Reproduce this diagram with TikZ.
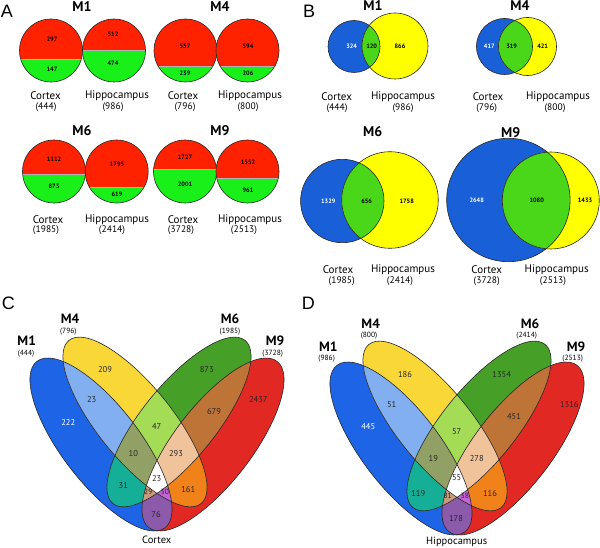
\documentclass[tikz,border=0pt]{standalone}
\usepackage{fontspec}
\setmainfont{PT Sans}
\newfontfamily\panelfont{Liberation Sans}
\usepackage{xcolor}
\usetikzlibrary{positioning}

% colours of the split discs (A) and two-set diagrams (B)
\definecolor{pieRed}{RGB}{255,34,0}
\definecolor{pieGreen}{RGB}{25,240,25}
\definecolor{vBlue}{RGB}{25,95,215}
\definecolor{vYellow}{RGB}{255,255,0}
\definecolor{vGreen}{RGB}{75,215,25}
% colours of the four-set diagrams (C, D)
\definecolor{eOne}{RGB}{30,100,230}
\definecolor{eFour}{RGB}{248,215,55}
\definecolor{eSix}{RGB}{70,160,40}
\definecolor{eNine}{RGB}{225,40,35}
\definecolor{eOneFour}{RGB}{130,175,240}
\definecolor{eFourSix}{RGB}{165,220,85}
\definecolor{eSixNine}{RGB}{190,115,55}
\definecolor{eOneNine}{RGB}{140,90,170}
\definecolor{eOneSix}{RGB}{20,175,150}
\definecolor{eFourNine}{RGB}{240,130,25}
\definecolor{eOneFourSix}{RGB}{145,160,100}
\definecolor{eFourSixNine}{RGB}{240,195,155}
\definecolor{eOneSixNine}{RGB}{200,155,125}
\definecolor{eOneFourNine}{RGB}{195,100,215}
\definecolor{edge}{RGB}{40,40,40}

% the four ellipses
\def\ellOne{(101,444.5) ellipse [x radius=105, y radius=38.7, rotate=-52.4]}
\def\ellFour{(135,422) ellipse [x radius=105, y radius=37, rotate=-51]}
\def\ellSix{(179,422) ellipse [x radius=105, y radius=37, rotate=51]}
\def\ellNine{(213,444.5) ellipse [x radius=105, y radius=38.7, rotate=52.4]}

\newcommand\pairfill[3]{\begin{scope}\clip #1; \fill[#3] #2;\end{scope}}
\newcommand\triplefill[4]{\begin{scope}\clip #1; \clip #2; \fill[#4] #3;\end{scope}}
\newcommand\fourvenn{%
  \fill[eOne] \ellOne; \fill[eFour] \ellFour;
  \fill[eSix] \ellSix; \fill[eNine] \ellNine;
  \pairfill\ellOne\ellFour{eOneFour}
  \pairfill\ellOne\ellSix{eOneSix}
  \pairfill\ellOne\ellNine{eOneNine}
  \pairfill\ellFour\ellSix{eFourSix}
  \pairfill\ellFour\ellNine{eFourNine}
  \pairfill\ellSix\ellNine{eSixNine}
  \triplefill\ellOne\ellFour\ellSix{eOneFourSix}
  \triplefill\ellOne\ellFour\ellNine{eOneFourNine}
  \triplefill\ellOne\ellSix\ellNine{eOneSixNine}
  \triplefill\ellFour\ellSix\ellNine{eFourSixNine}
  \begin{scope}\clip\ellOne; \clip\ellFour; \clip\ellSix; \fill[white] \ellNine;\end{scope}
  \draw[outline] \ellOne; \draw[outline] \ellFour;
  \draw[outline] \ellSix; \draw[outline] \ellNine;}

% disc split in a red upper and a green lower part
\newcommand\splitdisc[3]{%
  \begin{scope}
    \clip (#1,#2) circle [radius=31.5];
    \fill[pieRed] (#1-33,#2-33) rectangle (#1+33,#3);
    \fill[pieGreen] (#1-33,#3) rectangle (#1+33,#2+33);
    \draw[gray!60, line width=0.8pt] (#1-33,#3) -- (#1+33,#3);
  \end{scope}
  \draw[outline] (#1,#2) circle [radius=31.5];}

% blue disc x,y,r and yellow disc x,y,r
\newcommand\twovenn[6]{%
  \fill[vBlue] (#1,#2) circle [radius=#3];
  \fill[vYellow] (#4,#5) circle [radius=#6];
  \begin{scope}\clip (#1,#2) circle [radius=#3]; \fill[vGreen] (#4,#5) circle [radius=#6];\end{scope}
  \draw[outline] (#1,#2) circle [radius=#3];
  \draw[outline] (#4,#5) circle [radius=#6];}

\begin{document}
\begin{tikzpicture}[x=1pt, y=-1pt,
    every node/.style={inner sep=0pt},
    outline/.style={draw=edge, line width=0.6pt},
    panel/.style={font=\panelfont\fontsize{18}{18}\selectfont},
    mod/.style={font=\fontsize{14}{14}\selectfont\bfseries},
    tissue/.style={font=\fontsize{11}{11}\selectfont},
    count/.style={font=\fontsize{9.5}{9.5}\selectfont},
    pnum/.style={font=\fontsize{6.3}{6.3}\selectfont\bfseries},
    vmod/.style={font=\fontsize{13.5}{13.5}\selectfont\bfseries},
    vcount/.style={font=\fontsize{7.5}{7.5}\selectfont},
    vnum/.style={font=\fontsize{8.5}{8.5}\selectfont, text=black!85}]
\useasboundingbox (0,0) rectangle (600,548);
\fill[white] (0,0) rectangle (600,548);

% ---- A
\node[panel] (labA) at (7,11) {A};
\node[mod] (aM1) at (82,7) {M1};
\node[mod] (aM4) at (220,7) {M4};
\node[mod] (aM6) at (82,131) {M6};
\node[mod] (aM9) at (220,131) {M9};

\splitdisc{51}{50.5}{59}
\splitdisc{114}{50.5}{50.7}
\splitdisc{185.5}{50.5}{66}
\splitdisc{247.5}{50.5}{66.7}
\splitdisc{54}{171.5}{174.3}
\splitdisc{116.7}{171.5}{187.7}
\splitdisc{185}{171.5}{169.3}
\splitdisc{247.5}{171.5}{178.3}

\node[pnum] (a1) at (52,39) {297};   \node[pnum] (a2) at (52,69) {147};
\node[pnum] (a3) at (113,34) {512};  \node[pnum] (a4) at (113,63) {474};
\node[pnum] (a5) at (185,46) {557};  \node[pnum] (a6) at (185,73) {239};
\node[pnum] (a7) at (248,46) {594};  \node[pnum] (a8) at (248,73) {206};
\node[pnum] (a9) at (54,159) {1112}; \node[pnum] (a10) at (54,186) {873};
\node[pnum] (a11) at (117,164) {1795}; \node[pnum] (a12) at (117,194) {619};
\node[pnum] (a13) at (185,157) {1727}; \node[pnum] (a14) at (185,184) {2001};
\node[pnum] (a15) at (248,162) {1552}; \node[pnum] (a16) at (248,190) {961};

\node[tissue] (aCtx1) at (45.5,95.7) {Cortex};
\node[count] (aN1) at (46,107.3) {(444)};
\node[tissue] (aHip1) at (117,95.7) {Hippocampus};
\node[count] (aN2) at (113,107.3) {(986)};
\node[tissue] (aCtx4) at (183,95.7) {Cortex};
\node[count] (aN3) at (185,107.3) {(796)};
\node[tissue] (aHip4) at (250,95.7) {Hippocampus};
\node[count] (aN4) at (248,107.3) {(800)};
\node[tissue] (aCtx6) at (48,219.5) {Cortex};
\node[count] (aN5) at (46,230.5) {(1985)};
\node[tissue] (aHip6) at (117,219.5) {Hippocampus};
\node[count] (aN6) at (112,230.5) {(2414)};
\node[tissue] (aCtx9) at (183,219.5) {Cortex};
\node[count] (aN7) at (181,230.5) {(3728)};
\node[tissue] (aHip9) at (250,219.5) {Hippocampus};
\node[count] (aN8) at (244,230.5) {(2513)};

% ---- B
\node[panel] (labB) at (309,11) {B};
\node[mod] (bM1) at (373,6) {M1};
\node[mod] (bM4) at (520,6) {M4};
\node[mod] (bM6) at (372.7,132) {M6};
\node[mod] (bM9) at (510.7,133) {M9};

\twovenn{354}{46.5}{26}{395}{46}{33}
\twovenn{504.5}{46.5}{28}{527.5}{46.5}{29}
\twovenn{342.3}{201}{41.7}{390}{200}{48.3}
\twovenn{508.4}{200}{61.7}{550.8}{200.5}{48.5}

\node[pnum, text=white] (b1) at (351.7,46) {324};
\node[pnum] (b2) at (371.7,46) {120};
\node[pnum] (b3) at (400,46) {866};
\node[pnum, text=white] (b4) at (489.3,46.7) {417};
\node[pnum] (b5) at (511.7,46.7) {319};
\node[pnum] (b6) at (542.7,46.7) {421};
\node[pnum, text=white] (b7) at (328.3,201.7) {1329};
\node[pnum] (b8) at (366.7,201.7) {656};
\node[pnum] (b9) at (406.7,201.7) {1758};
\node[pnum, text=white] (b10) at (476.7,200.7) {2648};
\node[pnum] (b11) at (536.7,200.7) {1080};
\node[pnum] (b12) at (585,200.7) {1433};

\node[tissue] (bCtx1) at (336.7,96.7) {Cortex};
\node[count] (bN1) at (337,108) {(444)};
\node[tissue] (bHip1) at (403,96.7) {Hippocampus};
\node[count] (bN2) at (403,108) {(986)};
\node[tissue] (bCtx4) at (488,96.7) {Cortex};
\node[count] (bN3) at (486.7,108) {(796)};
\node[tissue] (bHip4) at (558,96.7) {Hippocampus};
\node[count] (bN4) at (555,108) {(800)};
\node[tissue] (bCtx6) at (338,270) {Cortex};
\node[count] (bN5) at (341.7,281) {(1985)};
\node[tissue] (bHip6) at (403,270) {Hippocampus};
\node[count] (bN6) at (400,281) {(2414)};
\node[tissue] (bCtx9) at (486.7,270) {Cortex};
\node[count] (bN7) at (486.7,281) {(3728)};
\node[tissue] (bHip9) at (556.7,270) {Hippocampus};
\node[count] (bN8) at (553,281) {(2513)};

% ---- C
\fourvenn
\node[panel] (labC) at (8.3,303.3) {C};
\node[vmod] (cM1) at (26.7,341) {M1};
\node[vcount] (cN1) at (26,353.3) {(444)};
\node[vmod] (cM4) at (70,319) {M4};
\node[vcount] (cN4) at (68.3,331.7) {(796)};
\node[vmod] (cM6) at (230,319) {M6};
\node[vcount] (cN6) at (230,331.7) {(1985)};
\node[vmod] (cM9) at (275,341) {M9};
\node[vcount] (cN9) at (272.7,353.3) {(3728)};
\node[tissue, font=\fontsize{10.5}{10.5}\selectfont] (cCtx) at (156.7,540) {Cortex};

\node[vnum, text=white] (c1) at (68.3,422.7) {222};
\node[vnum] (c2) at (105,369.3) {209};
\node[vnum] (c3) at (91.7,400) {23};
\node[vnum] (c4) at (156.7,426.7) {47};
\node[vnum] (c5) at (206.7,369.3) {873};
\node[vnum] (c6) at (214,411.7) {679};
\node[vnum] (c7) at (258.3,400) {2437};
\node[vnum] (c8) at (133.3,454) {10};
\node[vnum] (c9) at (176,454) {293};
\node[vnum] (c10) at (156.7,479) {23};
\node[vnum] (c11) at (123.3,486) {31};
\node[vnum, font=\fontsize{7.5}{7.5}\selectfont] (c12) at (148.3,491.7) {29};
\node[vnum, font=\fontsize{7.5}{7.5}\selectfont] (c13) at (164.8,491.7) {30};
\node[vnum] (c14) at (188.3,490) {161};
\node[vnum] (c15) at (156,515) {76};

% ---- D
\begin{scope}[shift={(300,4)}]
\fourvenn
\end{scope}
\node[panel] (labD) at (308.3,303.3) {D};
\node[vmod] (dM1) at (328.3,346.7) {M1};
\node[vcount] (dN1) at (326.7,359) {(986)};
\node[vmod] (dM4) at (370.7,323.3) {M4};
\node[vcount] (dN4) at (369,336) {(800)};
\node[vmod] (dM6) at (530,323.3) {M6};
\node[vcount] (dN6) at (526.7,336) {(2414)};
\node[vmod] (dM9) at (576,346.7) {M9};
\node[vcount] (dN9) at (572.7,359) {(2513)};
\node[tissue, font=\fontsize{10.5}{10.5}\selectfont] (dHip) at (456.7,541.7) {Hippocampus};

\node[vnum, text=white] (d1) at (368.3,426.7) {445};
\node[vnum] (d2) at (405,375) {186};
\node[vnum] (d3) at (391.7,405) {51};
\node[vnum] (d4) at (456.7,431.7) {57};
\node[vnum] (d5) at (501.7,375) {1354};
\node[vnum] (d6) at (514,416.7) {451};
\node[vnum] (d7) at (569.3,405) {1316};
\node[vnum] (d8) at (433.3,458.3) {19};
\node[vnum] (d9) at (476.7,459) {278};
\node[vnum] (d10) at (456.7,478) {55};
\node[vnum] (d11) at (418.3,493.3) {119};
\node[vnum, font=\fontsize{7.5}{7.5}\selectfont] (d12) at (447.7,496) {81};
\node[vnum, font=\fontsize{7.5}{7.5}\selectfont] (d13) at (464.8,496) {38};
\node[vnum] (d14) at (490,493.3) {116};
\node[vnum] (d15) at (456,518.3) {178};
\end{tikzpicture}
\end{document}
